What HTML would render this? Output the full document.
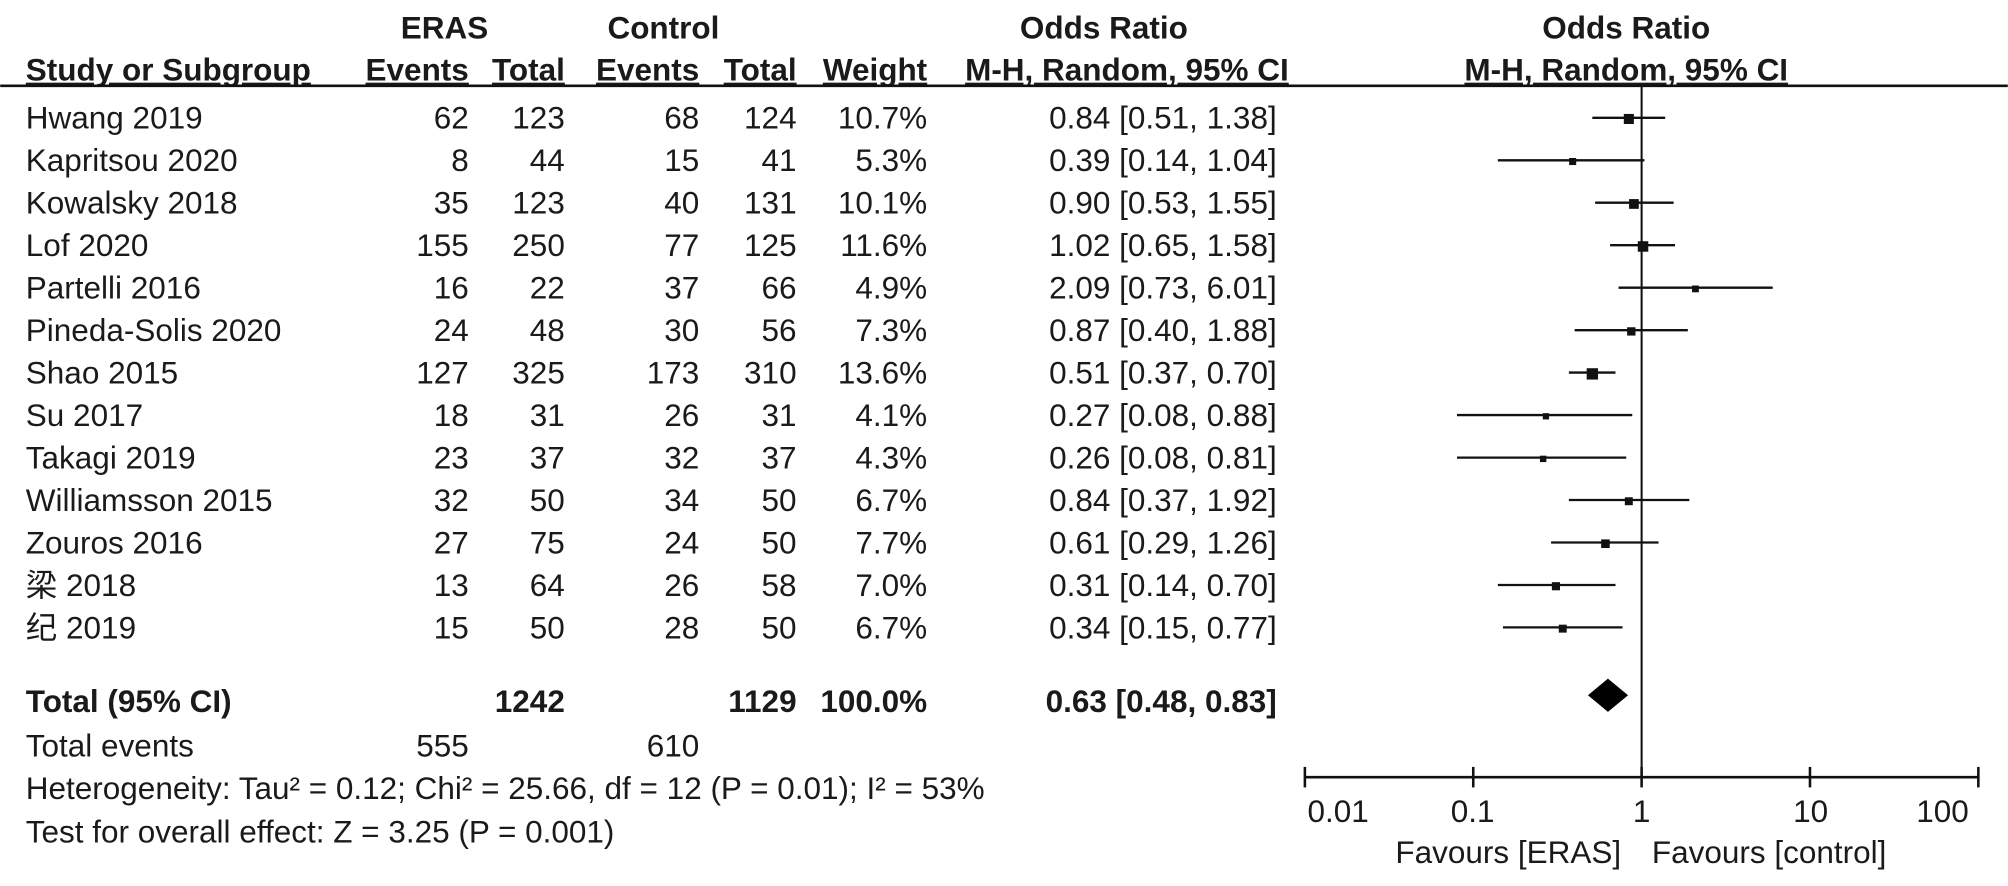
<!DOCTYPE html>
<html><head><meta charset="utf-8"><style>
html,body{margin:0;padding:0;background:#fff;}
svg{display:block}
text{font-family:"Liberation Sans","Noto Sans CJK SC",sans-serif;font-size:24.6px;fill:#1a1a1a}
.b{font-weight:bold}
.r{text-anchor:end}
.m{text-anchor:middle}
</style></head><body>
<svg width="2008" height="886" viewBox="0 0 1568 692" xmlns="http://www.w3.org/2000/svg">
<text class="b m" x="347" y="30">ERAS</text>
<text class="b m" x="518" y="30">Control</text>
<text class="b m" x="862" y="30">Odds Ratio</text>
<text class="b m" x="1270" y="30">Odds Ratio</text>
<text class="b" x="20" y="63" text-decoration="underline">Study or Subgroup</text>
<text class="b r" x="366" y="63" text-decoration="underline">Events</text>
<text class="b r" x="441" y="63" text-decoration="underline">Total</text>
<text class="b r" x="546" y="63" text-decoration="underline">Events</text>
<text class="b r" x="622" y="63" text-decoration="underline">Total</text>
<text class="b r" x="724" y="63" text-decoration="underline">Weight</text>
<text class="b m" x="880" y="63" text-decoration="underline">M-H, Random, 95% CI</text>
<text class="b m" x="1270" y="63" text-decoration="underline">M-H, Random, 95% CI</text>
<line x1="0" y1="67" x2="1568" y2="67" stroke="#111" stroke-width="2"/>
<line x1="1282" y1="67" x2="1282" y2="607" stroke="#111" stroke-width="1.6"/>

<g>
<text x="20" y="100.5">Hwang 2019</text><text class="r" x="366" y="100.5">62</text><text class="r" x="441" y="100.5">123</text><text class="r" x="546" y="100.5">68</text><text class="r" x="622" y="100.5">124</text><text class="r" x="724" y="100.5">10.7%</text><text class="r" x="997" y="100.5">0.84 [0.51, 1.38]</text>
<text x="20" y="133.7">Kapritsou 2020</text><text class="r" x="366" y="133.7">8</text><text class="r" x="441" y="133.7">44</text><text class="r" x="546" y="133.7">15</text><text class="r" x="622" y="133.7">41</text><text class="r" x="724" y="133.7">5.3%</text><text class="r" x="997" y="133.7">0.39 [0.14, 1.04]</text>
<text x="20" y="166.8">Kowalsky 2018</text><text class="r" x="366" y="166.8">35</text><text class="r" x="441" y="166.8">123</text><text class="r" x="546" y="166.8">40</text><text class="r" x="622" y="166.8">131</text><text class="r" x="724" y="166.8">10.1%</text><text class="r" x="997" y="166.8">0.90 [0.53, 1.55]</text>
<text x="20" y="200">Lof 2020</text><text class="r" x="366" y="200">155</text><text class="r" x="441" y="200">250</text><text class="r" x="546" y="200">77</text><text class="r" x="622" y="200">125</text><text class="r" x="724" y="200">11.6%</text><text class="r" x="997" y="200">1.02 [0.65, 1.58]</text>
<text x="20" y="233.2">Partelli 2016</text><text class="r" x="366" y="233.2">16</text><text class="r" x="441" y="233.2">22</text><text class="r" x="546" y="233.2">37</text><text class="r" x="622" y="233.2">66</text><text class="r" x="724" y="233.2">4.9%</text><text class="r" x="997" y="233.2">2.09 [0.73, 6.01]</text>
<text x="20" y="266.4">Pineda-Solis 2020</text><text class="r" x="366" y="266.4">24</text><text class="r" x="441" y="266.4">48</text><text class="r" x="546" y="266.4">30</text><text class="r" x="622" y="266.4">56</text><text class="r" x="724" y="266.4">7.3%</text><text class="r" x="997" y="266.4">0.87 [0.40, 1.88]</text>
<text x="20" y="299.5">Shao 2015</text><text class="r" x="366" y="299.5">127</text><text class="r" x="441" y="299.5">325</text><text class="r" x="546" y="299.5">173</text><text class="r" x="622" y="299.5">310</text><text class="r" x="724" y="299.5">13.6%</text><text class="r" x="997" y="299.5">0.51 [0.37, 0.70]</text>
<text x="20" y="332.7">Su 2017</text><text class="r" x="366" y="332.7">18</text><text class="r" x="441" y="332.7">31</text><text class="r" x="546" y="332.7">26</text><text class="r" x="622" y="332.7">31</text><text class="r" x="724" y="332.7">4.1%</text><text class="r" x="997" y="332.7">0.27 [0.08, 0.88]</text>
<text x="20" y="365.9">Takagi 2019</text><text class="r" x="366" y="365.9">23</text><text class="r" x="441" y="365.9">37</text><text class="r" x="546" y="365.9">32</text><text class="r" x="622" y="365.9">37</text><text class="r" x="724" y="365.9">4.3%</text><text class="r" x="997" y="365.9">0.26 [0.08, 0.81]</text>
<text x="20" y="399">Williamsson 2015</text><text class="r" x="366" y="399">32</text><text class="r" x="441" y="399">50</text><text class="r" x="546" y="399">34</text><text class="r" x="622" y="399">50</text><text class="r" x="724" y="399">6.7%</text><text class="r" x="997" y="399">0.84 [0.37, 1.92]</text>
<text x="20" y="432.2">Zouros 2016</text><text class="r" x="366" y="432.2">27</text><text class="r" x="441" y="432.2">75</text><text class="r" x="546" y="432.2">24</text><text class="r" x="622" y="432.2">50</text><text class="r" x="724" y="432.2">7.7%</text><text class="r" x="997" y="432.2">0.61 [0.29, 1.26]</text>
<text x="20" y="465.4">梁 2018</text><text class="r" x="366" y="465.4">13</text><text class="r" x="441" y="465.4">64</text><text class="r" x="546" y="465.4">26</text><text class="r" x="622" y="465.4">58</text><text class="r" x="724" y="465.4">7.0%</text><text class="r" x="997" y="465.4">0.31 [0.14, 0.70]</text>
<text x="20" y="498.5">纪 2019</text><text class="r" x="366" y="498.5">15</text><text class="r" x="441" y="498.5">50</text><text class="r" x="546" y="498.5">28</text><text class="r" x="622" y="498.5">50</text><text class="r" x="724" y="498.5">6.7%</text><text class="r" x="997" y="498.5">0.34 [0.15, 0.77]</text>
</g>

<g stroke="#111" stroke-width="1.8">
<line x1="1243.5" y1="92" x2="1300.4" y2="92"/>
<line x1="1169.7" y1="125.2" x2="1284.2" y2="125.2"/>
<line x1="1245.7" y1="158.3" x2="1307.0" y2="158.3"/>
<line x1="1257.4" y1="191.5" x2="1308.1" y2="191.5"/>
<line x1="1264.0" y1="224.7" x2="1384.4" y2="224.7"/>
<line x1="1229.7" y1="257.9" x2="1318.1" y2="257.9"/>
<line x1="1225.2" y1="291" x2="1261.6" y2="291"/>
<line x1="1137.8" y1="324.2" x2="1274.7" y2="324.2"/>
<line x1="1137.8" y1="357.4" x2="1270.0" y2="357.4"/>
<line x1="1225.2" y1="390.5" x2="1319.3" y2="390.5"/>
<line x1="1211.3" y1="423.7" x2="1295.2" y2="423.7"/>
<line x1="1169.7" y1="456.9" x2="1261.6" y2="456.9"/>
<line x1="1173.7" y1="490" x2="1267.1" y2="490"/>
</g>
<g fill="#111">
<rect x="1268.1" y="89" width="7.85" height="7.85"/>
<rect x="1225.4" y="123.4" width="5.5" height="5.5"/>
<rect x="1272.2" y="155.5" width="7.6" height="7.6"/>
<rect x="1279.0" y="188.4" width="8.2" height="8.2"/>
<rect x="1321.4" y="223" width="5.3" height="5.3"/>
<rect x="1270.7" y="255.6" width="6.5" height="6.5"/>
<rect x="1239.1" y="287.6" width="8.85" height="8.85"/>
<rect x="1204.8" y="322.7" width="4.9" height="4.9"/>
<rect x="1202.6" y="355.9" width="5.0" height="5.0"/>
<rect x="1268.9" y="388.4" width="6.2" height="6.2"/>
<rect x="1250.4" y="421.3" width="6.7" height="6.7"/>
<rect x="1211.9" y="454.7" width="6.35" height="6.35"/>
<rect x="1217.3" y="487.9" width="6.2" height="6.2"/>
</g>

<text class="b" x="20" y="556">Total (95% CI)</text>
<text class="b r" x="441" y="556">1242</text>
<text class="b r" x="622" y="556">1129</text>
<text class="b r" x="724" y="556">100.0%</text>
<text class="b r" x="997" y="556">0.63 [0.48, 0.83]</text>
<text x="20" y="591">Total events</text>
<text class="r" x="366" y="591">555</text>
<text class="r" x="546" y="591">610</text>
<text x="20" y="624">Heterogeneity: Tau² = 0.12; Chi² = 25.66, df = 12 (P = 0.01); I² = 53%</text>
<text x="20" y="658">Test for overall effect: Z = 3.25 (P = 0.001)</text>
<polygon points="1240.1,543 1255.7,530 1271.4,543 1255.7,556" fill="#000"/>
<line x1="1019" y1="607" x2="1545" y2="607" stroke="#111" stroke-width="2"/>
<g stroke="#111" stroke-width="2">
<line x1="1019" y1="599" x2="1019" y2="615"/>
<line x1="1150.5" y1="599" x2="1150.5" y2="615"/>
<line x1="1282" y1="599" x2="1282" y2="615"/>
<line x1="1413.5" y1="599" x2="1413.5" y2="615"/>
<line x1="1545" y1="599" x2="1545" y2="615"/>
</g>
<text class="m" x="1045" y="642">0.01</text>
<text class="m" x="1150" y="642">0.1</text>
<text class="m" x="1282" y="642">1</text>
<text class="m" x="1414" y="642">10</text>
<text class="m" x="1517" y="642">100</text>
<text class="r" x="1266" y="674">Favours [ERAS]</text>
<text x="1290" y="674">Favours [control]</text>
</svg>
</body></html>
